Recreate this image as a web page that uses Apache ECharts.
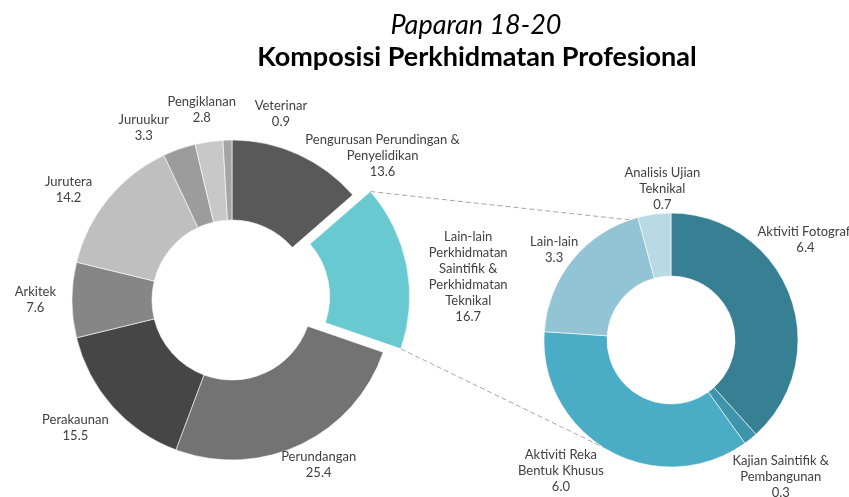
<!DOCTYPE html>
<html>
<head>
<meta charset="utf-8">
<script src="https://cdn.jsdelivr.net/npm/echarts@6/dist/echarts.min.js"></script>
<style>
  html, body { margin: 0; padding: 0; background: #fff; }
  #chart { width: 849px; height: 497px; }
</style>
</head>
<body>
<div id="chart"></div>
<script>
// data for the main donut (starting at 12 o'clock, clockwise)
const mainNames = [
  'Pengurusan Perundingan &\nPenyelidikan',
  'Lain-lain\nPerkhidmatan\nSaintifik &\nPerkhidmatan\nTeknikal',
  'Perundangan',
  'Perakaunan',
  'Arkitek',
  'Jurutera',
  'Juruukur',
  'Pengiklanan',
  'Veterinar'
];
const mainValues = [13.6, 16.7, 25.4, 15.5, 7.6, 14.2, 3.3, 2.8, 0.9];

// breakdown of "Lain-lain Perkhidmatan Saintifik & Perkhidmatan Teknikal"
const detailNames = [
  'Aktiviti Fotografi',
  'Kajian Saintifik &\nPembangunan',
  'Aktiviti Reka\nBentuk Khusus',
  'Lain-lain',
  'Analisis Ujian\nTeknikal'
];
const detailValues = [6.4, 0.3, 6.0, 3.3, 0.7];

const mainColors = ['#595959', '#69c9d1', '#737373', '#464646', '#868686', '#bfbfbf', '#9c9c9c', '#c8c8c8', '#a5a5a5'];
const detailColors = ['#377f93', '#3e94aa', '#4bacc6', '#93c4d5', '#b9d9e4'];
const explodedIndex = 1;

// layout
const mainCenter = [232, 300], mainRadius = [80, 160];
const detailCenter = [671, 340], detailRadius = [64, 127];
const explodeOffset = 18;
// label placement tweaks: [angle from top (deg, clockwise), gap], like Excel's best fit
const mainLabelFix = { 0: [39, 2], 1: [85, 20], 2: [null, 6], 5: [305, 16], 6: [334, 16], 8: [14, 16] };
const detailLabelFix = { 0: [48, 6], 1: [145, 16], 2: [217, 13], 4: [357, 0] };

const rad = d => d * Math.PI / 180;

function midAngles(values) {
  const total = values.reduce((a, b) => a + b, 0);
  let acc = 0;
  return values.map(v => {
    const m = (acc + v / 2) / total * 360;
    acc += v;
    return m;
  });
}
function edgeAngles(values, i) {
  const total = values.reduce((a, b) => a + b, 0);
  const before = values.slice(0, i).reduce((a, b) => a + b, 0);
  return [before / total * 360, (before + values[i]) / total * 360];
}

const mainMid = midAngles(mainValues);
const detailMid = midAngles(detailValues);

// centre of the pulled-out slice
const offX = explodeOffset * Math.sin(rad(mainMid[explodedIndex]));
const offY = -explodeOffset * Math.cos(rad(mainMid[explodedIndex]));
const explodedCenter = [mainCenter[0] + offX, mainCenter[1] + offY];

function labelPlacer(center, R, defGap, mids, fix) {
  return function (p) {
    const i = p.dataIndex;
    const f = fix[i] || [];
    const a = rad(f[0] != null ? f[0] : mids[i]);
    const gap = f[1] != null ? f[1] : defGap;
    const dx = Math.sin(a), dy = -Math.cos(a);
    const w = p.labelRect.width, h = p.labelRect.height;
    return {
      x: center[0] + dx * (R + gap) + dx * w / 2,
      y: center[1] + dy * (R + gap) + dy * h / 2,
      align: 'center',
      verticalAlign: 'middle'
    };
  };
}

// dashed connectors from the exploded slice to the detail donut
const [aStart, aEnd] = edgeAngles(mainValues, explodedIndex);
const ptOn = (c, r, deg) => [c[0] + r * Math.sin(rad(deg)), c[1] - r * Math.cos(rad(deg))];
const topFrom = ptOn(explodedCenter, mainRadius[1], aStart);
const botFrom = ptOn(explodedCenter, mainRadius[1], aEnd);
const topTo = ptOn(detailCenter, detailRadius[1], 341);
const botTo = ptOn(detailCenter, detailRadius[1], 199);

const labelStyle = {
  show: true,
  position: 'outside',
  fontFamily: 'Lato',
  fontSize: 13,
  lineHeight: 16,
  color: '#404040',
  formatter: p => p.name + '\n' + p.value.toFixed(1)
};
const hidden = { itemStyle: { color: 'rgba(0,0,0,0)', borderWidth: 0 }, label: { show: false } };

const baseSeries = {
  type: 'pie',
  startAngle: 90,
  clockwise: true,
  avoidLabelOverlap: false,
  silent: true,
  emphasis: { disabled: true },
  itemStyle: { borderColor: '#fff', borderWidth: 0.6 },
  label: labelStyle,
  labelLine: { show: false }
};

const chart = echarts.init(document.getElementById('chart'));
chart.setOption({
  animation: false,
  title: [
    {
      text: 'Paparan 18-20',
      left: 471, top: 7, textAlign: 'center',
      textStyle: { fontFamily: 'Lato', fontStyle: 'italic', fontWeight: 'normal', fontSize: 27, color: '#000' }
    },
    {
      text: 'Komposisi Perkhidmatan Profesional',
      left: 472, top: 39, textAlign: 'center',
      textStyle: { fontFamily: 'Lato', fontWeight: 'bold', fontSize: 27, color: '#000' }
    }
  ],
  graphic: [
    { type: 'line', z: 0, shape: { x1: topFrom[0], y1: topFrom[1], x2: topTo[0], y2: topTo[1] },
      style: { stroke: '#a6a6a6', lineWidth: 1, lineDash: [5, 3] } },
    { type: 'line', z: 0, shape: { x1: botFrom[0], y1: botFrom[1], x2: botTo[0], y2: botTo[1] },
      style: { stroke: '#a6a6a6', lineWidth: 1, lineDash: [5, 3] } }
  ],
  series: [
    // main donut, exploded slice left as a gap
    Object.assign({}, baseSeries, {
      center: mainCenter,
      radius: mainRadius,
      labelLayout: labelPlacer(mainCenter, mainRadius[1], 16, mainMid, mainLabelFix),
      data: mainNames.map((n, i) => i === explodedIndex
        ? Object.assign({ name: n, value: mainValues[i] }, hidden)
        : { name: n, value: mainValues[i], itemStyle: { color: mainColors[i] } })
    }),
    // the exploded slice, drawn from a shifted centre
    Object.assign({}, baseSeries, {
      center: explodedCenter,
      radius: mainRadius,
      labelLayout: labelPlacer(explodedCenter, mainRadius[1], 16, mainMid, mainLabelFix),
      data: mainNames.map((n, i) => i === explodedIndex
        ? { name: n, value: mainValues[i], itemStyle: { color: mainColors[i] } }
        : Object.assign({ name: n, value: mainValues[i] }, hidden))
    }),
    // detail donut
    Object.assign({}, baseSeries, {
      center: detailCenter,
      radius: detailRadius,
      labelLayout: labelPlacer(detailCenter, detailRadius[1], 0, detailMid, detailLabelFix),
      data: detailNames.map((n, i) => ({
        name: n, value: detailValues[i], itemStyle: { color: detailColors[i] }
      }))
    })
  ]
});
</script>
</body>
</html>
